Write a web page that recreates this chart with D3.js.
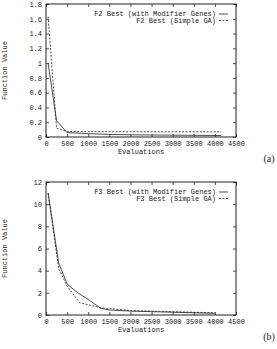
<!DOCTYPE html>
<html>
<head>
<meta charset="utf-8">
<script src="https://cdn.jsdelivr.net/npm/d3@7"></script>
<style>
  body { margin: 0; background: #fff; }
  svg { display: block; }
  text { font-family: "Liberation Mono", "DejaVu Sans Mono", monospace; font-size: 7px; fill: #222; }
</style>
</head>
<body>
<svg id="chart"></svg>
<script>
// Data
const f2Modifier = [[50, 1.0], [250, 0.22], [500, 0.06], [1000, 0.045], [1500, 0.035], [2000, 0.03], [3000, 0.025], [4150, 0.02]];
const f2Simple = [[50, 1.63], [250, 0.12], [500, 0.075], [1000, 0.072], [2000, 0.071], [3000, 0.07], [4150, 0.07]];
const f3Modifier = [[50, 11.0], [300, 4.7], [500, 2.8], [750, 2.0], [1000, 1.4], [1300, 0.6], [1500, 0.45], [2000, 0.35], [2500, 0.3], [3000, 0.25], [3500, 0.2], [4000, 0.15]];
const f3Simple = [[50, 11.0], [300, 4.2], [500, 2.6], [800, 1.1], [1300, 0.65], [1600, 0.55], [2000, 0.4], [2500, 0.35], [3000, 0.3], [3500, 0.25], [4000, 0.2]];

const xTicks = [0, 500, 1000, 1500, 2000, 2500, 3000, 3500, 4000, 4500];
const yTicksA = [0, 0.2, 0.4, 0.6, 0.8, 1, 1.2, 1.4, 1.6, 1.8];
const yTicksB = [0, 2, 4, 6, 8, 10, 12];
const legendA = ['F2 Best (with Modifier Genes)', 'F2 Best (Simple GA)'];
const legendB = ['F3 Best (with Modifier Genes)', 'F3 Best (Simple GA)'];

const width = 277;
const height = 349;

const svg = d3.select('#chart')
  .attr('width', width)
  .attr('height', height);

const panels = [
  { top: 4, bottom: 137, yMax: 1.8, yTicks: yTicksA, series: [f2Modifier, f2Simple], legend: legendA, tag: '(a)' },
  { top: 182, bottom: 315, yMax: 12, yTicks: yTicksB, series: [f3Modifier, f3Simple], legend: legendB, tag: '(b)' }
];

const left = 46;
const right = 236;

panels.forEach(p => {
  const g = svg.append('g');

  const x = d3.scaleLinear().domain([0, 4500]).range([left, right]);
  const y = d3.scaleLinear().domain([0, p.yMax]).range([p.bottom, p.top]);

  // inward ticks on all four sides (gnuplot style)
  const tick = 3;
  const axisStyle = sel => {
    sel.select('.domain').remove();
    sel.selectAll('line').attr('stroke', '#222').attr('stroke-width', 0.8);
  };

  g.append('g')
    .attr('transform', `translate(0,${p.bottom})`)
    .call(d3.axisBottom(x).tickValues(xTicks).tickSize(-tick).tickPadding(4).tickFormat(d3.format('d')))
    .call(axisStyle)
    .selectAll('text').attr('fill', '#222').style('font-size', '7px').style('font-family', 'Liberation Mono');

  g.append('g')
    .attr('transform', `translate(0,${p.top})`)
    .call(d3.axisTop(x).tickValues(xTicks).tickSize(-tick).tickFormat(''))
    .call(axisStyle);

  g.append('g')
    .attr('transform', `translate(${left},0)`)
    .call(d3.axisLeft(y).tickValues(p.yTicks).tickSize(-tick).tickPadding(4).tickFormat(d => d))
    .call(axisStyle)
    .selectAll('text').attr('fill', '#222').style('font-size', '7px').style('font-family', 'Liberation Mono');

  g.append('g')
    .attr('transform', `translate(${right},0)`)
    .call(d3.axisRight(y).tickValues(p.yTicks).tickSize(-tick).tickFormat(''))
    .call(axisStyle);

  // frame
  g.append('rect')
    .attr('x', left).attr('y', p.top)
    .attr('width', right - left).attr('height', p.bottom - p.top)
    .attr('fill', 'none').attr('stroke', '#222').attr('stroke-width', 1);

  // lines
  const line = d3.line().x(d => x(d[0])).y(d => y(d[1]));
  const dashes = [null, '2,1.5'];
  p.series.forEach((s, i) => {
    g.append('path')
      .datum(s)
      .attr('d', line)
      .attr('fill', 'none')
      .attr('stroke', '#222')
      .attr('stroke-width', 0.8)
      .attr('stroke-dasharray', dashes[i]);
  });

  // legend
  p.legend.forEach((t, i) => {
    const ly = p.top + 10 + i * 6.5;
    g.append('text')
      .attr('x', 216).attr('y', ly + 2)
      .attr('text-anchor', 'end')
      .text(t);
    g.append('line')
      .attr('x1', 219).attr('x2', 228)
      .attr('y1', ly).attr('y2', ly)
      .attr('stroke', '#222').attr('stroke-width', 0.8)
      .attr('stroke-dasharray', dashes[i]);
  });

  // axis titles
  g.append('text')
    .attr('x', (left + right) / 2).attr('y', p.bottom + 17)
    .attr('text-anchor', 'middle')
    .text('Evaluations');

  g.append('text')
    .attr('transform', `translate(7,${(p.top + p.bottom) / 2}) rotate(-90)`)
    .attr('text-anchor', 'middle')
    .text('Function Value');

  g.append('text')
    .attr('x', 269).attr('y', p.bottom + 25)
    .attr('text-anchor', 'middle')
    .style('font-family', 'Liberation Serif')
    .style('font-size', '10px')
    .text(p.tag);
});
</script>
</body>
</html>
